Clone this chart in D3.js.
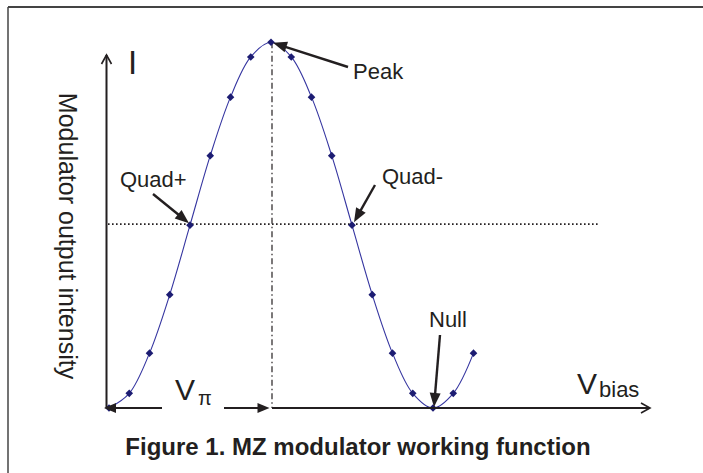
<!DOCTYPE html>
<head>
<style>
body { margin: 0; background: #fff; }
* { font-family: "Liberation Sans", Arial, sans-serif; }
</style>
</head>
<body>
<svg width="703" height="473"></svg>
<script src="https://d3js.org/d3.v7.min.js"></script>
<script>

// bias steps (arbitrary units) and normalised output intensity
var bias = [0, 1, 2, 3, 4, 5, 6, 7, 8, 9, 10, 11, 12, 13, 14, 15, 16, 17, 18];
var intensity = [0, 0.04, 0.15, 0.31, 0.5, 0.69, 0.85, 0.96, 1, 0.96, 0.85, 0.69, 0.5, 0.31, 0.15, 0.04, 0, 0.04, 0.15];

// annotated points (index into bias)
var peakIdx = 8, quadPlusIdx = 4, quadMinusIdx = 12, nullIdx = 16;

var data = bias.map(function(b, i) { return {x: b, y: intensity[i]}; });

var svg = d3.select("svg");
var ink = "#231f20";

var x = d3.scaleLinear().domain([0, 16]).range([109, 433]);
var y = d3.scaleLinear().domain([0, 1]).range([408, 42.3]);

var axisX = 106.5, axisY = 408;

// frame
svg.append("line").attr("x1", 8).attr("y1", 7).attr("x2", 703).attr("y2", 7)
    .attr("stroke", "#444").attr("stroke-width", 2);
svg.append("line").attr("x1", 8).attr("y1", 7).attr("x2", 8).attr("y2", 473)
    .attr("stroke", "#444").attr("stroke-width", 1.5);

// reference lines
svg.append("line")
    .attr("x1", 108).attr("x2", 599)
    .attr("y1", y(0.5) - 1).attr("y2", y(0.5) - 1)
    .attr("stroke", ink).attr("stroke-width", 1.6)
    .attr("stroke-dasharray", "1.6,2.4");

svg.append("line")
    .attr("x1", x(peakIdx) + 1).attr("x2", x(peakIdx) + 1)
    .attr("y1", y(1)).attr("y2", axisY)
    .attr("stroke", ink).attr("stroke-width", 1.2)
    .attr("stroke-dasharray", "6,3,1.5,3");

// curve
var line = d3.line()
    .x(function(d) { return x(d.x); })
    .y(function(d) { return y(d.y); })
    .curve(d3.curveCatmullRom.alpha(0.5));

svg.append("path").datum(data)
    .attr("d", line)
    .attr("fill", "none")
    .attr("stroke", "#3535a0")
    .attr("stroke-width", 1.1);

svg.selectAll(".pt").data(data).enter().append("path")
    .attr("class", "pt")
    .attr("transform", function(d) { return "translate(" + x(d.x) + "," + y(d.y) + ")"; })
    .attr("d", "M0,-3.8L3.8,0L0,3.8L-3.8,0Z")
    .attr("fill", "#1c1c72");

// axes
function chevron(tx, ty, ang) {
  var a = ang * Math.PI / 180, L = 9, W = 5;
  var bx = tx - L * Math.cos(a), by = ty - L * Math.sin(a);
  var px = -Math.sin(a) * W, py = Math.cos(a) * W;
  svg.append("path")
      .attr("d", "M" + (bx + px) + "," + (by + py) + "L" + tx + "," + ty + "L" + (bx - px) + "," + (by - py))
      .attr("fill", "none").attr("stroke", ink).attr("stroke-width", 1.6);
}

function arrow(x1, y1, x2, y2, w, L, H) {
  var dx = x2 - x1, dy = y2 - y1, len = Math.sqrt(dx * dx + dy * dy);
  var ux = dx / len, uy = dy / len;
  var bx = x2 - ux * L, by = y2 - uy * L;
  svg.append("line").attr("x1", x1).attr("y1", y1).attr("x2", bx + ux * 1).attr("y2", by + uy * 1)
      .attr("stroke", ink).attr("stroke-width", w);
  svg.append("path")
      .attr("d", "M" + x2 + "," + y2 + "L" + (bx - uy * H) + "," + (by + ux * H) + "L" + (bx + uy * H) + "," + (by - ux * H) + "Z")
      .attr("fill", ink);
}

svg.append("line").attr("x1", axisX).attr("y1", axisY).attr("x2", axisX).attr("y2", 55)
    .attr("stroke", ink).attr("stroke-width", 2);
chevron(axisX, 55, -90);

svg.append("line").attr("x1", x(peakIdx) + 1).attr("y1", axisY).attr("x2", 650).attr("y2", axisY)
    .attr("stroke", ink).attr("stroke-width", 2);
chevron(650, axisY, 0);

// V-pi span
arrow(162, axisY, 104, axisY, 2.2, 12, 5);
arrow(224, axisY, 269.5, axisY, 2.2, 12, 5);

// annotation arrows
arrow(348, 67, x(peakIdx) + 2, y(1) + 0.5, 2.4, 14, 5.5);
arrow(153, 194, x(quadPlusIdx) - 1, y(0.5) - 2, 2.4, 14, 5.5);
arrow(375, 185, x(quadMinusIdx) + 2, y(0.5) - 3, 2.4, 14, 5.5);
arrow(440, 335, x(nullIdx) + 1, y(0) - 1, 2.4, 14, 5.5);

// labels
function label(t, lx, ly, size, weight) {
  return svg.append("text").attr("x", lx).attr("y", ly)
      .attr("font-size", size).attr("font-weight", weight || "normal")
      .attr("fill", ink).text(t);
}

label("I", 128, 74, 33);
label("Peak", 353, 79, 22);
label("Quad+", 120, 187, 22);
label("Quad-", 382, 184, 22);
label("Null", 429, 327, 22);

var vpi = label("V", 175, 400, 30);
vpi.append("tspan").attr("font-size", 20).attr("dx", 3).attr("dy", 5).text("π");

var vb = label("V", 577, 394, 30);
vb.append("tspan").attr("font-size", 22).attr("dx", 2).attr("dy", 3).text("bias");

svg.append("text")
    .attr("transform", "translate(59,236) rotate(90)")
    .attr("text-anchor", "middle")
    .attr("font-size", 25)
    .attr("fill", ink)
    .text("Modulator output intensity");

svg.append("text")
    .attr("x", 358).attr("y", 455)
    .attr("text-anchor", "middle")
    .attr("font-size", 24)
    .attr("font-weight", "bold")
    .attr("fill", ink)
    .text("Figure 1. MZ modulator working function");

</script>
</body>
